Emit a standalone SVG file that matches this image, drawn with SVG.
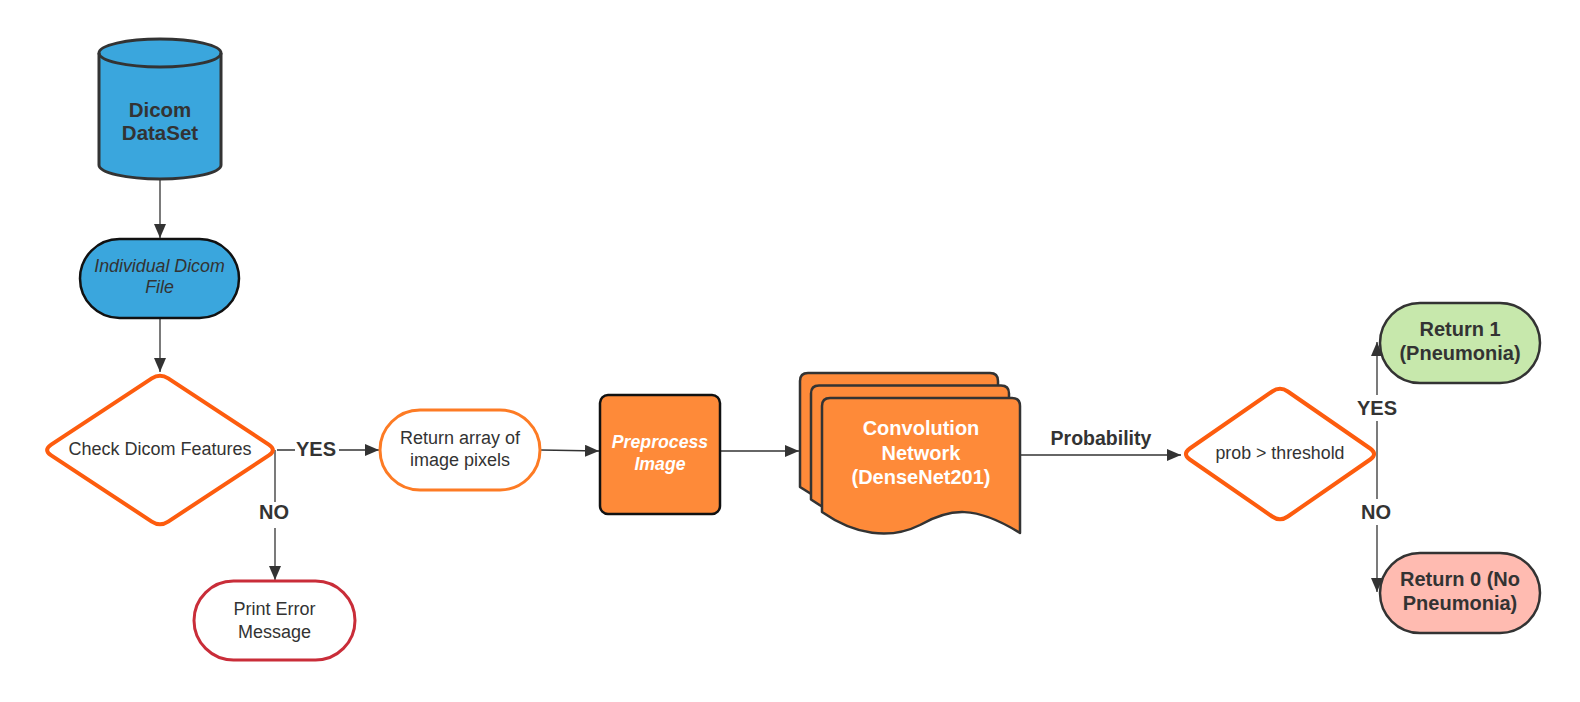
<svg xmlns="http://www.w3.org/2000/svg" width="1580" height="702" viewBox="0 0 1580 702">
<defs>
<style>
text{font-family:"Liberation Sans",Arial,sans-serif;fill:#333;text-anchor:middle}
.b{font-weight:bold}
.w{fill:#fff}
.line{fill:none;stroke:#333;stroke-width:1.3}
.lbl{fill:#fff;stroke:none}
.dia{fill:#fff;stroke:#fd5c0e;stroke-width:4}
.sheet{fill:#fe8a39;stroke:#333;stroke-width:2.5;stroke-linejoin:round}
</style>
<marker id="ah" markerUnits="userSpaceOnUse" markerWidth="14" markerHeight="12" refX="14" refY="6" orient="auto">
<path d="M0,0 L14,6 L0,12 Z" fill="#333"/>
</marker>
</defs>
<rect width="1580" height="702" fill="#fff"/>

<g id="connectors">
<path class="line" d="M160,179 L160,238" marker-end="url(#ah)"/>
<path class="line" d="M160,319 L160,372" marker-end="url(#ah)"/>
<path class="line" d="M277,450 L379,450" marker-end="url(#ah)"/>
<path class="line" d="M275,450 L275,580" marker-end="url(#ah)"/>
<path class="line" d="M541,450 L599,451" marker-end="url(#ah)"/>
<path class="line" d="M720,451 L799,451" marker-end="url(#ah)"/>
<path class="line" d="M1021,455 L1181,455" marker-end="url(#ah)"/>
<path class="line" d="M1377,454 L1377,342" marker-end="url(#ah)"/>
<path class="line" d="M1377,454 L1377,592" marker-end="url(#ah)"/>
<rect class="lbl" x="295" y="437" width="44" height="24"/>
<text class="b" x="316" y="456" font-size="20">YES</text>
<rect class="lbl" x="260" y="502" width="30" height="26"/>
<text class="b" x="274" y="519" font-size="20">NO</text>
<text class="b" x="1101" y="445" font-size="19.5">Probability</text>
<rect class="lbl" x="1355" y="395" width="44" height="26"/>
<text class="b" x="1377" y="415" font-size="20">YES</text>
<rect class="lbl" x="1361" y="499" width="30" height="26"/>
<text class="b" x="1376" y="519" font-size="20">NO</text>
</g>

<g id="dicom-dataset">
<path d="M99,53 L99,165 A61,14 0 0 0 221,165 L221,53 A61,14 0 0 0 99,53 Z" fill="#3aa6dd" stroke="#333" stroke-width="3"/>
<path d="M99,53 A61,14 0 0 0 221,53" fill="none" stroke="#333" stroke-width="3"/>
<text class="b" x="160" y="117" font-size="20.5">Dicom</text>
<text class="b" x="160" y="140" font-size="20.5">DataSet</text>
</g>

<g id="individual-file">
<rect x="80" y="239" width="159" height="79" rx="39.5" fill="#3aa6dd" stroke="#111" stroke-width="2.5"/>
<text x="159.5" y="272" font-size="17.8" font-style="italic">Individual Dicom</text>
<text x="159.5" y="293" font-size="17.8" font-style="italic">File</text>
</g>

<g id="check-features">
<path class="dia" d="M51.2,444.6 L151.8,378.4 Q160,373 168.2,378.4 L268.8,444.6 Q277,450 268.8,455.4 L168.2,521.6 Q160,527 151.8,521.6 L51.2,455.4 Q43,450 51.2,444.6 Z"/>
<text x="160" y="455" font-size="18">Check Dicom Features</text>
</g>

<g id="return-array">
<rect x="380" y="410" width="160" height="80" rx="40" fill="#fff" stroke="#fd7b24" stroke-width="3"/>
<text x="460" y="444" font-size="18">Return array of</text>
<text x="460" y="466" font-size="18">image pixels</text>
</g>

<g id="print-error">
<rect x="194" y="581" width="161" height="79" rx="39.5" fill="#fff" stroke="#c92d39" stroke-width="3"/>
<text x="274.5" y="615" font-size="18">Print Error</text>
<text x="274.5" y="638" font-size="18">Message</text>
</g>

<g id="preprocess">
<rect x="600" y="395" width="120" height="119" rx="8" fill="#fe8a39" stroke="#111" stroke-width="2.5"/>
<text class="w b" x="660" y="448" font-size="17.7" font-style="italic">Preprocess</text>
<text class="w b" x="660" y="470" font-size="17.7" font-style="italic">Image</text>
</g>

<g id="convolution-network">
<path class="sheet" transform="translate(-22,-25)" d="M822,512 L822,406 Q822,398 830,398 L1012,398 Q1020,398 1020,406 L1020,533 C975,505 950,508 920,525 C890,540 855,535 822,512 Z"/>
<path class="sheet" transform="translate(-11,-12.5)" d="M822,512 L822,406 Q822,398 830,398 L1012,398 Q1020,398 1020,406 L1020,533 C975,505 950,508 920,525 C890,540 855,535 822,512 Z"/>
<path class="sheet" d="M822,512 L822,406 Q822,398 830,398 L1012,398 Q1020,398 1020,406 L1020,533 C975,505 950,508 920,525 C890,540 855,535 822,512 Z"/>
<text class="w b" x="921" y="435" font-size="20">Convolution</text>
<text class="w b" x="921" y="460" font-size="20">Network</text>
<text class="w b" x="921" y="484" font-size="20">(DenseNet201)</text>
</g>

<g id="threshold">
<path class="dia" d="M1189.8,448.5 L1272.2,391.5 Q1280,386 1287.8,391.5 L1370.2,448.5 Q1378,454 1370.2,459.5 L1287.8,516.5 Q1280,522 1272.2,516.5 L1189.8,459.5 Q1182,454 1189.8,448.5 Z"/>
<text x="1280" y="459" font-size="17.8">prob &gt; threshold</text>
</g>

<g id="return-1">
<rect x="1380" y="303" width="160" height="80" rx="40" fill="#c7e8ac" stroke="#333" stroke-width="2.5"/>
<text class="b" x="1460" y="336" font-size="20">Return 1</text>
<text class="b" x="1460" y="360" font-size="20">(Pneumonia)</text>
</g>

<g id="return-0">
<rect x="1380" y="553" width="160" height="80" rx="40" fill="#ffbbb1" stroke="#333" stroke-width="2.5"/>
<text class="b" x="1460" y="586" font-size="20">Return 0 (No</text>
<text class="b" x="1460" y="610" font-size="20">Pneumonia)</text>
</g>
</svg>
